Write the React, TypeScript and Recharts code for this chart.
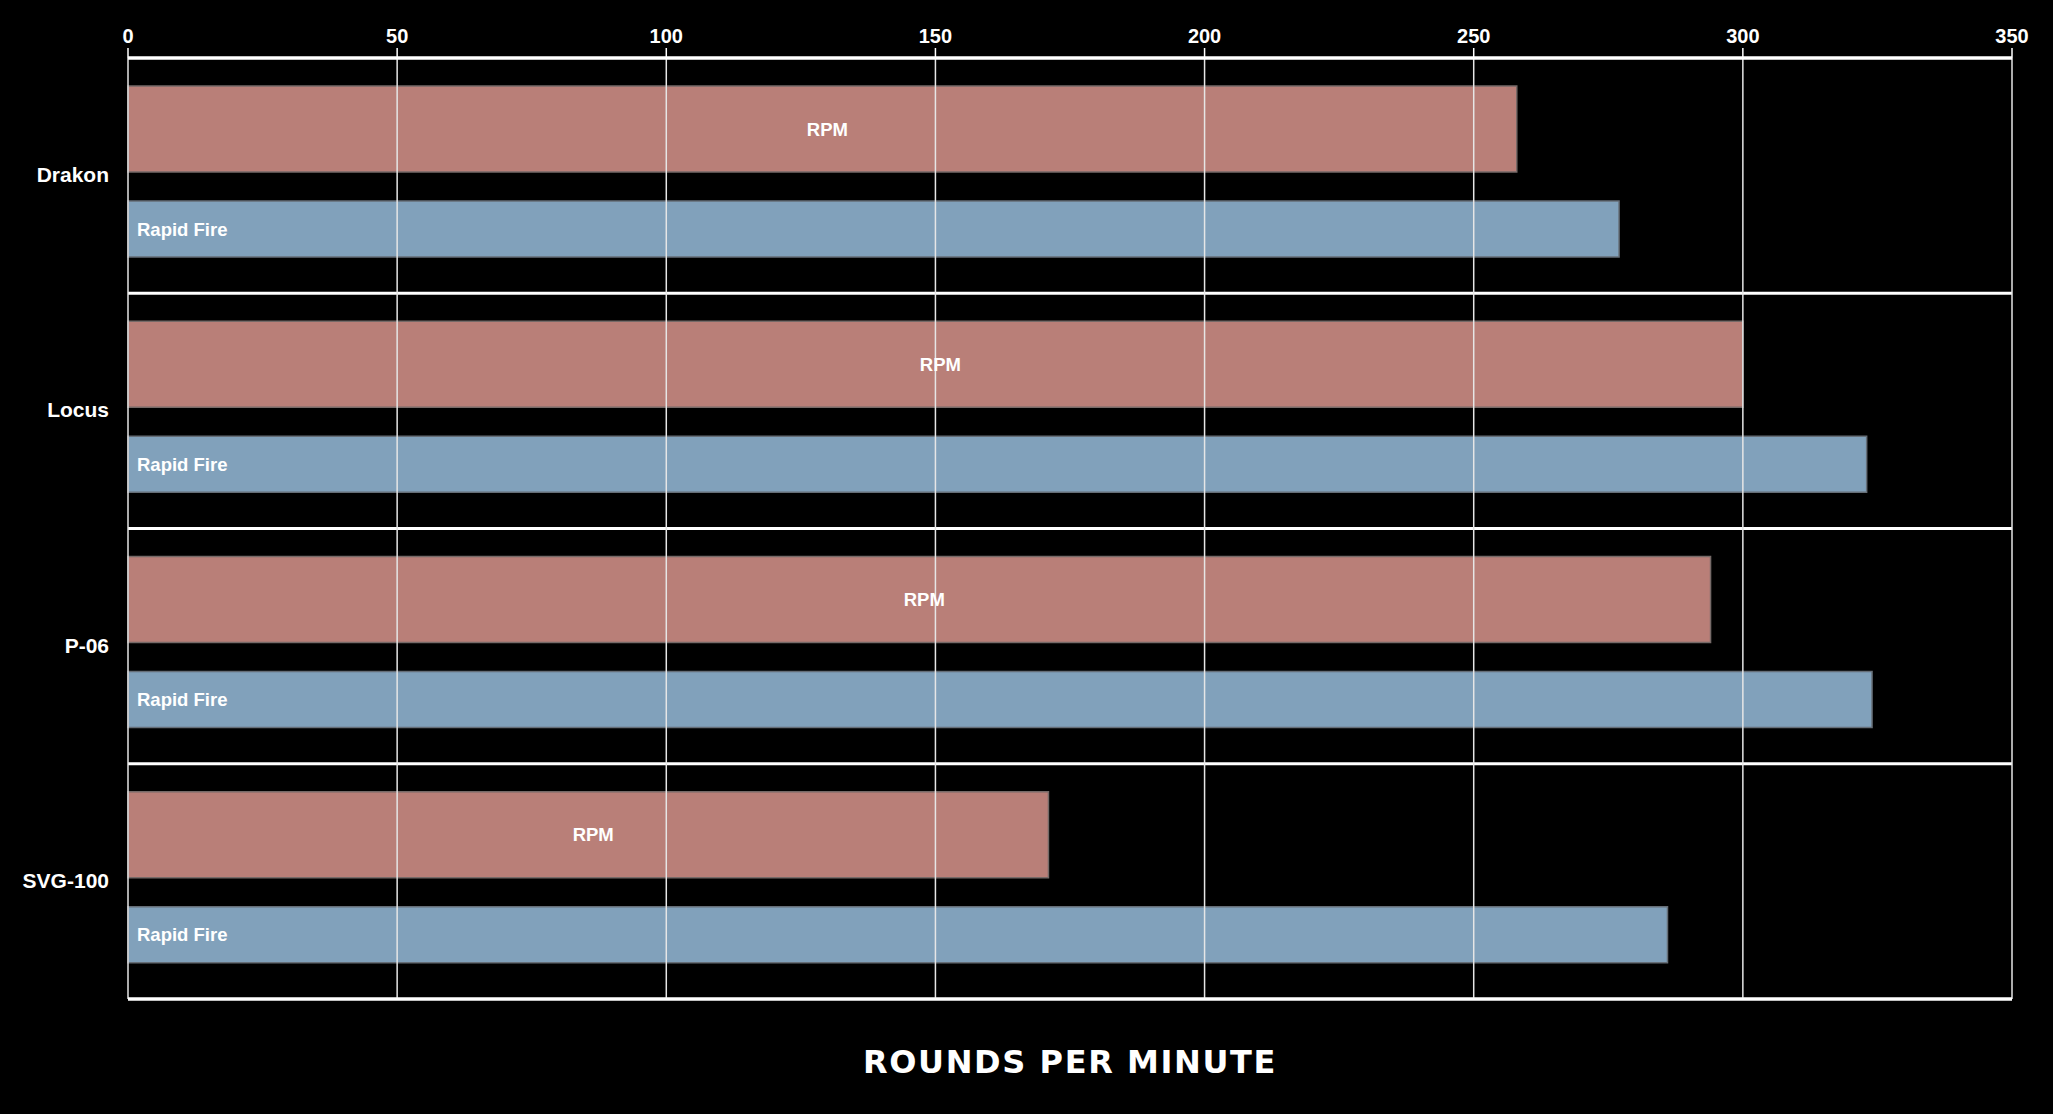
import React from 'react';
import { BarChart, Bar, XAxis, YAxis, CartesianGrid, LabelList, ReferenceLine } from 'recharts';

const weapons = ['Drakon', 'Locus', 'P-06', 'SVG-100'];
const rpm = [258, 300, 294, 171];
const rapidFire = [277, 323, 324, 286];
const xTicks = [0, 50, 100, 150, 200, 250, 300, 350];

const data = weapons.map((name, i) => ({ name, rpm: rpm[i], rapidFire: rapidFire[i] }));

const font = '"Liberation Sans", Arial, sans-serif';
const tickStyle = { fill: '#fff', fontSize: 20, fontWeight: 'bold', fontFamily: font };

// separators sit on the edges of each weapon's band, not on its centre
const bandEdgeLines = ({ offset }: any) => {
  const n = weapons.length;
  const out: number[] = [];
  for (let i = 0; i <= n; i++) out.push(offset.top + (offset.height * i) / n);
  return out;
};

const App: React.FC = () => (
  <div style={{ position: 'absolute', left: 0, top: 0, width: 2053, height: 1114, background: '#000' }}>
    <BarChart
      width={2053}
      height={1114}
      data={data}
      layout="vertical"
      margin={{ top: 0, right: 41, bottom: 0, left: 0 }}
      barGap={29}
    >
      <CartesianGrid
        xAxisId="top"
        yAxisId="cat"
        vertical={false}
        horizontalCoordinatesGenerator={bandEdgeLines}
        stroke="#fff"
        strokeWidth={3}
      />
      <XAxis
        xAxisId="top"
        orientation="top"
        type="number"
        domain={[0, 350]}
        ticks={xTicks}
        interval={0}
        height={58}
        axisLine={{ stroke: '#fff', strokeWidth: 3 }}
        tickLine={{ stroke: '#fff', strokeWidth: 1.5 }}
        tickSize={10}
        tickMargin={5}
        tick={tickStyle}
      />
      <XAxis
        xAxisId="bottom"
        orientation="bottom"
        type="number"
        domain={[0, 350]}
        ticks={xTicks}
        interval={0}
        height={115}
        axisLine={{ stroke: '#fff', strokeWidth: 3 }}
        tickLine={{ stroke: '#fff', strokeWidth: 1.5 }}
        tickSize={10}
        tickMargin={6}
        tick={tickStyle}
        label={{
          value: 'ROUNDS PER MINUTE',
          position: 'insideBottom',
          offset: 41,
          fill: '#fff',
          fontSize: 32,
          fontWeight: 'bold',
          fontFamily: '"DejaVu Sans", sans-serif',
          letterSpacing: 1.6,
        }}
      />
      <YAxis
        yAxisId="cat"
        type="category"
        dataKey="name"
        width={128}
        padding={{ top: -4, bottom: 4 }}
        axisLine={false}
        tickLine={false}
        tickSize={0}
        tickMargin={19}
        tick={{ ...tickStyle, fontSize: 21, dy: 3 }}
      />
      <Bar
        dataKey="rpm"
        xAxisId="top"
        yAxisId="cat"
        fill="#b97f78"
        stroke="#766a68"
        strokeWidth={1.5}
        barSize={86}
        isAnimationActive={false}
      >
        <LabelList
          dataKey="rpm"
          position="center"
          formatter={() => 'RPM'}
          dx={5}
          fill="#fff"
          fontSize={18.5}
          fontWeight="bold"
          fontFamily={font}
        />
      </Bar>
      <Bar
        dataKey="rapidFire"
        xAxisId="top"
        yAxisId="cat"
        fill="#81a1bb"
        stroke="#666e77"
        strokeWidth={1.5}
        barSize={56}
        isAnimationActive={false}
      >
        <LabelList
          dataKey="rapidFire"
          position="insideLeft"
          offset={9}
          formatter={() => 'Rapid Fire'}
          fill="#fff"
          fontSize={18.5}
          fontWeight="bold"
          fontFamily={font}
        />
      </Bar>
      {/* vertical grid is drawn over the bars in the original */}
      {xTicks.map((t) => (
        <ReferenceLine key={t} x={t} xAxisId="top" yAxisId="cat" stroke="#e6e6e6" strokeWidth={1.5} />
      ))}
    </BarChart>
  </div>
);

export default App;
